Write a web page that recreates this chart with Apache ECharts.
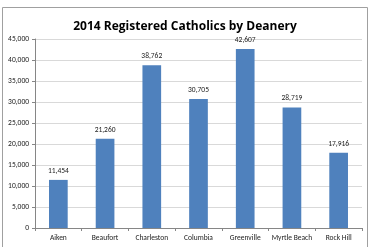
<!DOCTYPE html>
<html>
<head>
<meta charset="utf-8">
<script src="https://cdn.jsdelivr.net/npm/echarts@6/dist/echarts.min.js"></script>
<style>
  html, body { margin: 0; padding: 0; background: #fff; }
  #chart { width: 370px; height: 247px; }
</style>
</head>
<body>
<div id="chart"></div>
<script>
// deaneries and registered catholics, 2014
const deaneries = ['Aiken', 'Beaufort', 'Charleston', 'Columbia', 'Greenville', 'Myrtle Beach', 'Rock Hill'];
const catholics = [11454, 21260, 38762, 30705, 42607, 28719, 17916];

const chart = echarts.init(document.getElementById('chart'));

const option = {
    animation: false,
    textStyle: { fontFamily: 'Carlito, "Liberation Sans", "Open Sans", sans-serif' },
    title: {
        text: '2014 Registered Catholics by Deanery',
        left: 'center',
        top: 16,
        textStyle: { fontSize: 12, fontWeight: 'bold', color: '#000', fontFamily: '"Open Sans", sans-serif' }
    },
    graphic: [{
        type: 'rect',
        shape: { x: 2.5, y: 7.5, width: 365, height: 245 },
        style: { fill: 'none', stroke: '#a0a0a0', lineWidth: 1 },
        silent: true
    }],
    grid: { left: 35, right: 8, top: 39, bottom: 19 },
    xAxis: {
        type: 'category',
        data: deaneries,
        axisLine: { lineStyle: { color: '#868686' } },
        axisTick: { show: true, length: 3, lineStyle: { color: '#868686' } },
        axisLabel: { fontSize: 7.5, color: '#222', margin: 6, interval: 0 }
    },
    yAxis: {
        type: 'value',
        min: 0,
        max: 45000,
        interval: 5000,
        axisLine: { show: true, lineStyle: { color: '#868686' } },
        axisTick: { show: true, length: 3, lineStyle: { color: '#868686' } },
        splitLine: { lineStyle: { color: '#d9d9d9' } },
        axisLabel: {
            fontSize: 7.5, color: '#222', margin: 6,
            formatter: v => v.toLocaleString('en-US')
        }
    },
    series: [{
        type: 'bar',
        data: catholics,
        barWidth: '40%',
        itemStyle: { color: '#4f81bd' },
        label: {
            show: true,
            position: 'top',
            fontSize: 7.5,
            color: '#222',
            distance: 5,
            formatter: p => p.value.toLocaleString('en-US')
        }
    }]
};

chart.setOption(option);
</script>
</body>
</html>
